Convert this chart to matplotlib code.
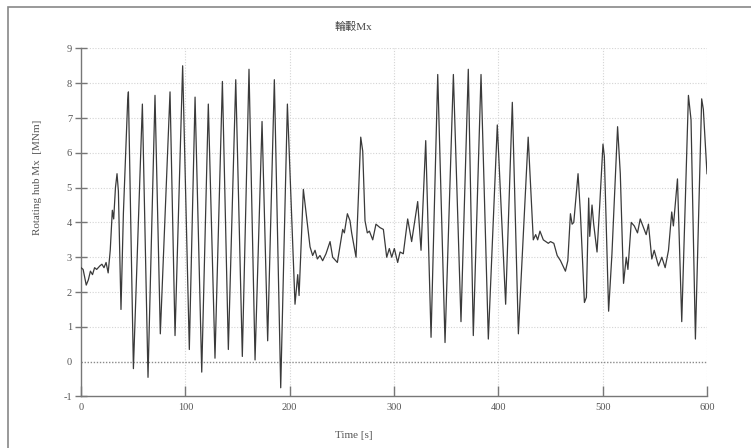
import matplotlib.pyplot as plt
from matplotlib.patches import Rectangle

plt.rcParams['axes.unicode_minus'] = False

# hub moment time history
time_s = [0, 2, 5, 7, 9, 11, 13, 15, 18, 20, 22, 24, 26, 28, 30, 31.3, 33, 34.5, 35.8,
          38.3, 40.6, 44.7, 45.4, 50.2, 58.8, 64.2, 70.9, 76, 85.3, 90.1, 97.4, 103.8, 109.3,
          115.7, 122, 128.4, 135.5, 141.2, 148.3, 154.6, 161, 166.8, 173.5, 178.9, 185.3,
          191.4, 197.8, 205.1, 207.7, 209, 213.1, 216, 219.5, 222, 224.3, 226.5, 229,
          231.6, 234.8, 238.7, 241.2, 245.7, 250.8, 252.4, 255.3, 257.8, 259.4, 263.6,
          268.1, 270, 272.2, 274.4, 276.4, 279.6, 282.7, 286.6, 289.8, 293, 295.5, 297.8,
          300.3, 303.5, 305.8, 308.9, 313.1, 316.9, 322.7, 325.9, 330.4, 335.5, 341.9,
          348.9, 356.9, 364.2, 371.2, 376, 383.4, 390.4, 399, 407, 413.4, 419.2, 428.6,
          433.5, 435.8, 437.7, 439.9, 443.1, 447.9, 450, 453.2, 456.4, 459.6, 464.3,
          466.6, 469.1, 470.7, 472.3, 476.4, 478.7, 482.5, 484.4, 486.6, 487.6, 489.8,
          491.4, 494.6, 497.1, 500.3, 501.6, 505.7, 508.9, 514.3, 516.9, 520, 522.6,
          524.2, 527.4, 530.3, 533.4, 536, 538.5, 541.7, 543.9, 547.1, 549.4, 553.5,
          556.7, 559.9, 563.1, 566.2, 567.8, 571.7, 575.8, 582.2, 584.7, 588.9, 594.9,
          596.5, 600]
hub_mx = [2.7, 2.65, 2.2, 2.35, 2.6, 2.5, 2.7, 2.65, 2.75, 2.8, 2.7, 2.85, 2.55, 3.2, 4.35,
          4.1, 5.0, 5.4, 4.9, 1.5, 4.26, 7.5, 7.75, -0.2, 7.4, -0.45, 7.65, 0.8, 7.75, 0.75, 8.5,
          0.35, 7.6, -0.3, 7.4, 0.1, 8.05, 0.35, 8.1, 0.15, 8.4, 0.05, 6.9, 0.6, 8.1, -0.75,
          7.4, 1.65, 2.5, 1.9, 4.95, 4.2, 3.3, 3.05, 3.2, 2.95, 3.05, 2.9, 3.1, 3.45, 3.0,
          2.85, 3.8, 3.7, 4.25, 4.05, 3.7, 3.0, 6.45, 6.05, 4.05, 3.7, 3.75, 3.5, 3.95,
          3.85, 3.8, 3.0, 3.25, 3.0, 3.25, 2.85, 3.15, 3.1, 4.1, 3.45, 4.6, 3.2, 6.35, 0.7,
          8.25, 0.55, 8.25, 1.15, 8.4, 0.75, 8.25, 0.65, 6.8, 1.65, 7.45, 0.8, 6.45, 3.5,
          3.65, 3.5, 3.75, 3.5, 3.4, 3.45, 3.4, 3.05, 2.9, 2.6, 2.9, 4.25, 3.95, 4.0, 5.4,
          4.25, 1.7, 1.85, 4.7, 3.6, 4.5, 3.95, 3.15, 4.45, 6.25, 5.9, 1.45, 3.1, 6.75, 5.4,
          2.25, 3.0, 2.65, 4.0, 3.9, 3.7, 4.1, 3.9, 3.65, 3.95, 2.95, 3.2, 2.75, 3.0, 2.7,
          3.2, 4.3, 3.9, 5.25, 1.15, 7.65, 6.95, 0.65, 7.55, 7.25, 5.4]

x_ticks = [0, 100, 200, 300, 400, 500, 600]
y_ticks = [-1, 0, 1, 2, 3, 4, 5, 6, 7, 8, 9]

serif = ['Liberation Serif', 'Noto Sans CJK TC']
grey = '#777777'

fig = plt.figure(figsize=(7.51, 4.48), dpi=100)
ax = fig.add_axes([0.1079, 0.115, 0.8335, 0.777])

# grid first, then the zero line and the signal on top
for x in x_ticks[1:]:
    ax.axvline(x, color='#d4d4d4', lw=0.8, ls=(0, (1, 1.5)), zorder=0)
for y in y_ticks[2:]:
    ax.axhline(y, color='#d4d4d4', lw=0.8, ls=(0, (1, 1.5)), zorder=0)
ax.axhline(0, color='#8a8a8a', lw=1.0, ls=(0, (1, 1.2)), zorder=1)

ax.plot(time_s, hub_mx, color='#3a3a3a', lw=0.9, zorder=3)

ax.set_xlim(0, 600)
ax.set_ylim(-1, 9)
ax.set_xticks(x_ticks)
ax.set_yticks(y_ticks)

for side in ['top', 'right']:
    ax.spines[side].set_visible(False)
for side in ['left', 'bottom']:
    ax.spines[side].set_color(grey)
    ax.spines[side].set_linewidth(1.0)

ax.tick_params(axis='x', direction='in', length=7, width=1, color=grey,
               labelsize=7.5, labelcolor='#555555', pad=5)
ax.tick_params(axis='y', direction='inout', length=9, width=1, color=grey,
               labelsize=7.5, labelcolor='#555555', pad=2)
ax.yaxis.get_major_ticks()[1].tick1line.set_visible(False)
for lbl in ax.get_xticklabels() + ax.get_yticklabels():
    lbl.set_family(serif)

ax.set_ylabel('Rotating hub Mx  [MNm]', family=serif, fontsize=8, color='#555555')
ax.yaxis.set_label_coords(-0.062, 0.63)

fig.text(0.471, 0.940, '輪轂Mx', family=serif, fontsize=8, color='#444444',
         ha='center', va='center')
fig.text(0.471, 0.027, 'Time [s]', family=serif, fontsize=8, color='#555555',
         ha='center', va='center')

# outer frame
fig.patches.append(Rectangle((8 / 751, -0.01), 1.0, 1 - 7 / 448 + 0.01,
                             transform=fig.transFigure, fill=False,
                             edgecolor='#888888', lw=1.2))

fig.savefig('out.png', dpi=100)
